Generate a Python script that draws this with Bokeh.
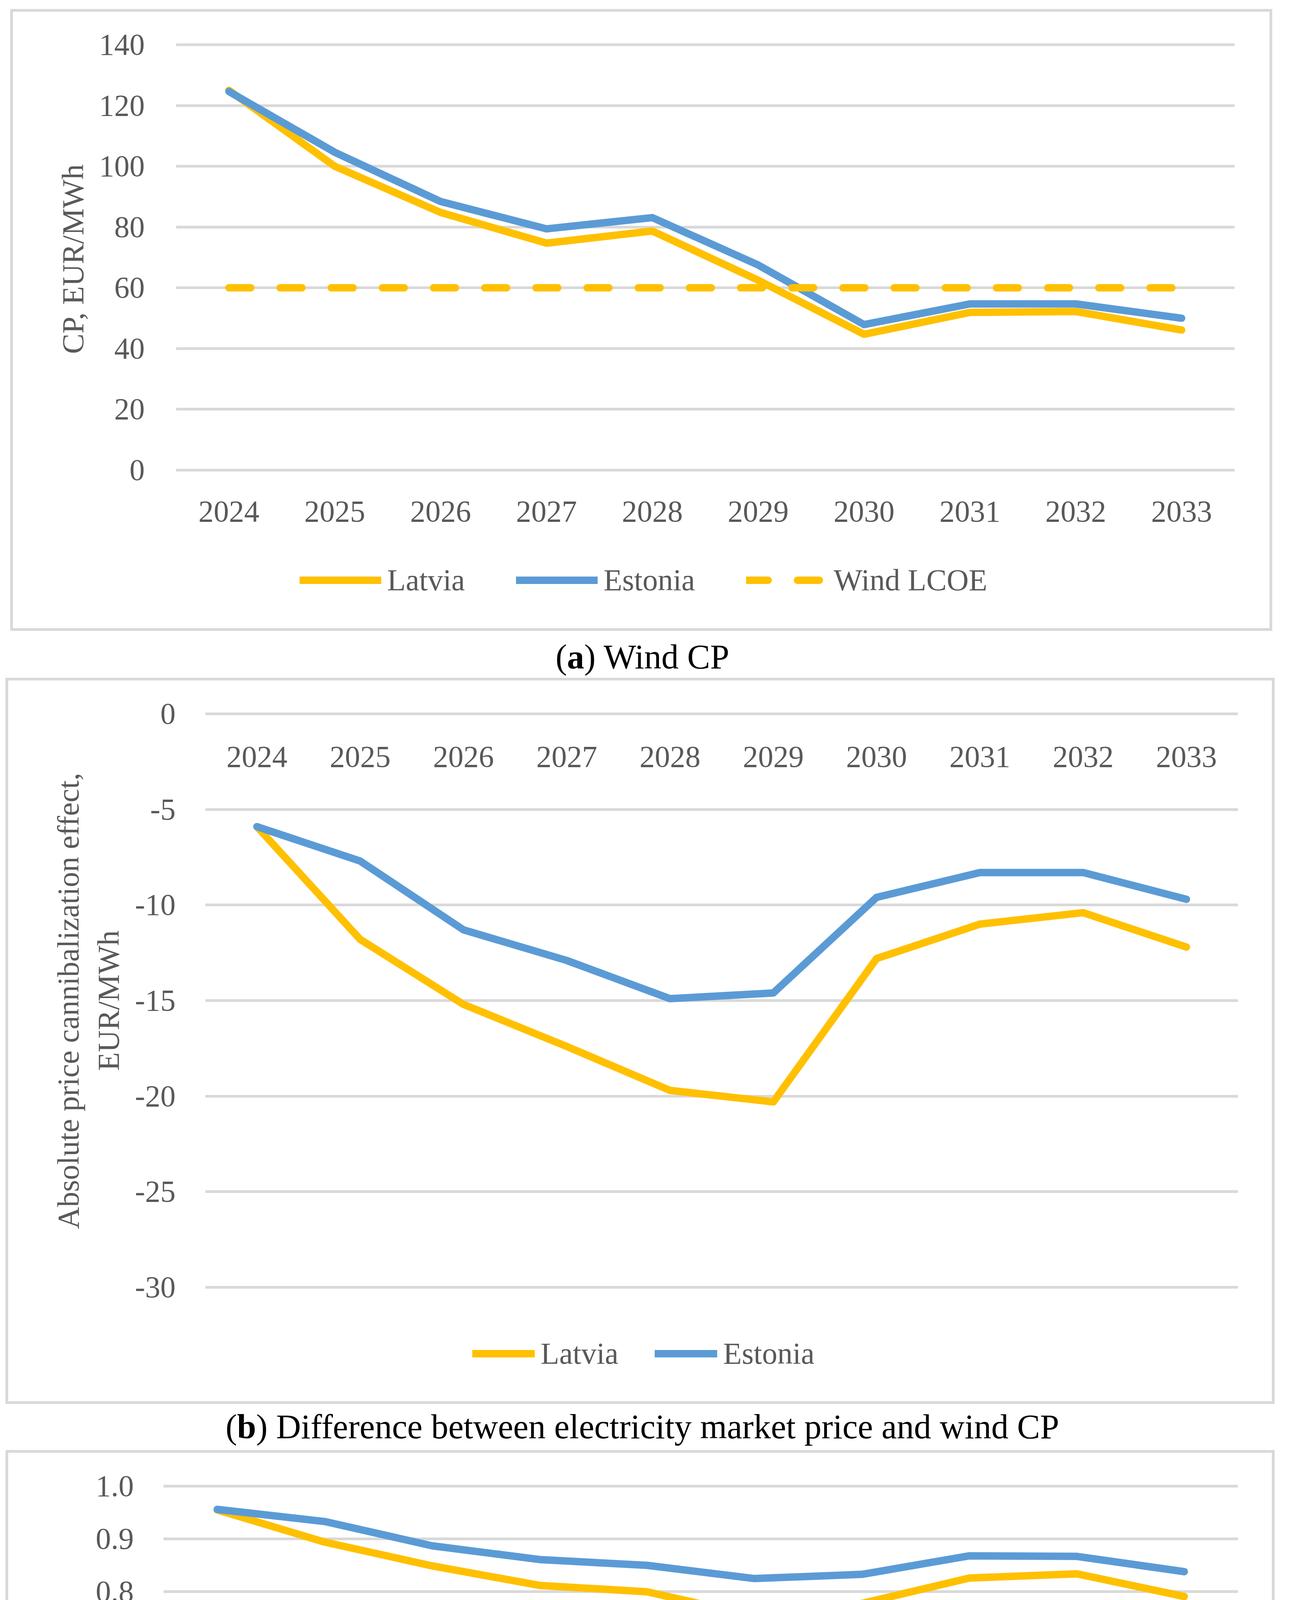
from bokeh.plotting import figure
from bokeh.models import (FactorRange, Range1d, Legend, LegendItem, FixedTicker,
                          Spacer, Div, Title)
from bokeh.layouts import column, row
from bokeh.core.properties import value
from bokeh.embed import file_html
from bokeh.resources import INLINE

# ---------------- data ----------------
years = ["2024", "2025", "2026", "2027", "2028", "2029", "2030", "2031", "2032", "2033"]

cp_latvia = [125.0, 100.0, 84.8, 74.7, 78.7, 62.5, 44.7, 51.9, 52.2, 46.1]
cp_estonia = [124.6, 104.6, 88.4, 79.4, 83.1, 67.5, 47.9, 54.7, 54.7, 50.0]
wind_lcoe = [60, 60, 60, 60, 60, 60, 60, 60, 60, 60]

ape_latvia = [-5.9, -11.8, -15.2, -17.4, -19.7, -20.3, -12.8, -11.0, -10.4, -12.2]
ape_estonia = [-5.9, -7.7, -11.3, -12.9, -14.9, -14.6, -9.6, -8.3, -8.3, -9.7]

cpf_latvia = [0.955, 0.894, 0.849, 0.812, 0.800, 0.754, 0.778, 0.826, 0.834, 0.791]
cpf_estonia = [0.956, 0.933, 0.887, 0.861, 0.850, 0.825, 0.833, 0.868, 0.867, 0.838]

cp_ticks = [0, 20, 40, 60, 80, 100, 120, 140]
cp_tick_labels = ["0", "20", "40", "60", "80", "100", "120", "140"]
ape_ticks = [0, -5, -10, -15, -20, -25, -30]
ape_tick_labels = ["0", "-5", "-10", "-15", "-20", "-25", "-30"]
cpf_ticks = [0.0, 0.1, 0.2, 0.3, 0.4, 0.5, 0.6, 0.7, 0.8, 0.9, 1.0]
cpf_tick_labels = ["0.0", "0.1", "0.2", "0.3", "0.4", "0.5", "0.6", "0.7", "0.8", "0.9", "1.0"]

series_names = ["Latvia", "Estonia", "Wind LCOE"]
titles_y = [["CP, EUR/MWh"], ["Absolute price cannibalization effect,", "EUR/MWh"], ["CPF"]]
captions = [("a", ") Wind CP"),
            ("b", ") Difference between electricity market price and wind CP"),
            ("c", ") Wind CPF")]

# ---------------- style ----------------
FONT = "Liberation Serif"
GRAY = "#595959"
GRID = "#D9D9D9"
YELLOW = "#FFC000"
BLUE = "#5B9BD5"
W = 3289          # page content width
FS = 78           # text size (px)
TXT = f"{FS}px"
LW = 19           # series line width
BW = 7            # chart-area border width
PAD = 4           # px of frame above the top gridline
BOT = 10          # px below the frame inside each chart area

# em widths of Liberation Serif (Times metrics), used to centre rotated titles
EM = {" ": .25, ",": .25, "/": .278, "A": .722, "C": .667, "E": .611, "F": .556,
      "M": .889, "P": .556, "R": .667, "U": .722, "W": .944, "a": .444, "b": .5,
      "c": .444, "e": .444, "f": .333, "h": .5, "i": .278, "l": .278, "n": .5,
      "o": .5, "p": .5, "r": .333, "s": .389, "t": .278, "u": .5, "z": .444}


def text_len(s):
    return sum(EM.get(ch, .5) for ch in s) * FS


def base_fig(w, h, left, right, data_top, data_bot, y_lo, y_hi):
    """Frame spans from just above the top gridline down to near the box bottom,
    so the legend can sit inside it below the value area."""
    ft = data_top - PAD
    fb = h - BOT
    upp = (y_hi - y_lo) / (data_bot - data_top)
    p = figure(width=w, height=h,
               x_range=FactorRange(factors=years, range_padding=0),
               y_range=Range1d(y_lo - (fb - data_bot) * upp, y_hi + (data_top - ft) * upp),
               output_backend="svg", toolbar_location=None,
               x_axis_location=None,
               min_border_left=left, min_border_right=w - right,
               min_border_top=ft, min_border_bottom=h - fb)
    p.outline_line_color = None
    p.background_fill_color = "white"
    p.border_fill_color = "white"
    p.xgrid.grid_line_color = None
    return p


def title_fig(w, h, data_top, data_bot, text):
    """Narrow strip carrying one line of the rotated y-axis title, centred on
    the value area (frame aligned with the neighbouring plot)."""
    ft = data_top - PAD
    fb = h - BOT
    t = figure(width=w, height=h, x_range=Range1d(0, 1), y_range=Range1d(0, 1),
               output_backend="svg", toolbar_location=None,
               x_axis_location=None, y_axis_location=None,
               min_border_left=w - 1, min_border_right=0,
               min_border_top=ft, min_border_bottom=h - fb)
    t.outline_line_color = None
    t.background_fill_color = "white"
    t.border_fill_color = "white"
    t.grid.visible = False
    centre = (data_top + data_bot) / 2
    off = fb - centre - text_len(text) / 2
    t.add_layout(Title(text=text, align="left", offset=off, standoff=0,
                       text_font=FONT, text_font_size=TXT, text_font_style="normal",
                       text_color=GRAY), "left")
    return t


def style_y(p, ticks, labels, standoff):
    ax = p.yaxis[0]
    ax.ticker = FixedTicker(ticks=ticks)
    g = p.ygrid[0]
    g.ticker = FixedTicker(ticks=ticks)
    g.grid_line_color = GRID
    g.grid_line_width = 7
    ax.major_label_overrides = dict(zip(ticks, labels))
    ax.axis_line_color = None
    ax.major_tick_line_color = None
    ax.minor_tick_line_color = None
    ax.major_tick_out = 0
    ax.major_tick_in = 0
    ax.minor_tick_out = 0
    ax.minor_tick_in = 0
    ax.major_label_standoff = standoff
    ax.major_label_text_font = FONT
    ax.major_label_text_font_size = TXT
    ax.major_label_text_color = GRAY


def x_labels(p, axis_value, offset):
    """Category labels hanging below the horizontal axis line at `axis_value`."""
    p.text(x=years, y=[axis_value] * len(years), text=years, y_offset=offset,
           text_font=value(FONT), text_font_size=value(TXT), text_color=GRAY,
           text_align="center", text_baseline="middle")


def add_legend(p, items, x, y, glyph_w, spacing):
    lg = Legend(items=[LegendItem(label=n, renderers=[r]) for n, r in items],
                location=(x, y), orientation="horizontal",
                glyph_width=glyph_w, glyph_height=90, label_height=90,
                label_standoff=15, spacing=spacing, padding=0, margin=0,
                border_line_color=None, background_fill_alpha=0,
                label_text_font=FONT, label_text_font_size=TXT,
                label_text_color=GRAY)
    p.add_layout(lg)


def lines(p, a, b):
    r1 = p.line(years, a, line_color=YELLOW, line_width=LW, line_join="round", line_cap="round")
    r2 = p.line(years, b, line_color=BLUE, line_width=LW, line_join="round", line_cap="round")
    return r1, r2


def boxed(content, w, h, left_gap):
    """Wrap content in a light-grey chart-area border (w, h = outer size)."""
    def bar(bw, bh):
        return Spacer(width=bw, height=bh, margin=(0, 0, 0, 0),
                      styles={"background-color": GRID})
    inner = column(bar(w - 2 * BW, BW), content, bar(w - 2 * BW, BW), spacing=0)
    return row(Spacer(width=left_gap, height=h, margin=(0, 0, 0, 0)),
               bar(BW, h), inner, bar(BW, h), spacing=0)


def caption(letter, rest, h, pad_top):
    html = ('<div style="font-family: \'Liberation Serif\', serif; font-size: 88px; '
            'line-height: 100px; text-align: center; color: #000000; white-space: nowrap; '
            f'padding-top: {pad_top}px; width: {W}px;">(<b>{letter}</b>){rest[1:]}</div>')
    return Div(text=html, width=W, height=h, margin=(0, 0, 0, 0))


def panel(outer_w, outer_h, title_edges, plot_left, plot_right, data_top, data_bot,
          y_lo, y_hi, title_lines):
    """title_edges: x (inside the chart area) of the lower edge of each title line."""
    iw, ih = outer_w - 2 * BW, outer_h - 2 * BW
    strips, x0 = [], 0
    for edge, txt in zip(title_edges, title_lines):
        strips.append(title_fig(edge - x0 + 1, ih, data_top, data_bot, txt))
        x0 = edge + 1
    p = base_fig(iw - x0, ih, plot_left - x0, plot_right - x0,
                 data_top, data_bot, y_lo, y_hi)
    return strips, p


# ---------------- panel (a) ----------------
AW, AH = 3231, 1592
sa, pa = panel(AW, AH, [196], 417, 3127, 84, 1173, 0, 140, titles_y[0])
style_y(pa, cp_ticks, cp_tick_labels, 80)
ra1, ra2 = lines(pa, cp_latvia, cp_estonia)
ra3 = pa.line(years, wind_lcoe, line_color=YELLOW, line_width=LW, line_dash="56 75",
              line_cap="round")
x_labels(pa, cp_ticks[0], 106)
add_legend(pa, list(zip(series_names, [ra1, ra2, ra3])), 317, 68, 209, 131)

# ---------------- panel (b) ----------------
BWD, BH = 3249, 1859
sb, pb = panel(BWD, BH, [196, 299], 504, 3148, 85, 1553, -30, 0, titles_y[1])
style_y(pb, ape_ticks, ape_tick_labels, 76)
x_labels(pb, ape_ticks[0], 110)
rb1, rb2 = lines(pb, ape_latvia, ape_estonia)
add_legend(pb, list(zip(series_names[:2], [rb1, rb2])), 684, 67, 160, 93)

# ---------------- panel (c) ----------------
CWD, CH = 3249, 1857
sc, pc = panel(CWD, CH, [199], 397, 3148, 85, 1437, 0, 1.0, titles_y[2])
style_y(pc, cpf_ticks, cpf_tick_labels, 76)
rc1, rc2 = lines(pc, cpf_latvia, cpf_estonia)
x_labels(pc, cpf_ticks[0], 110)
add_legend(pc, list(zip(series_names[:2], [rc1, rc2])), 791, 67, 160, 93)

layout = column(
    Spacer(width=W, height=23, margin=(0, 0, 0, 0)),
    boxed(row(*sa, pa, spacing=0), AW, AH, 26),
    caption(*captions[0], 120, 17),
    boxed(row(*sb, pb, spacing=0), BWD, BH, 14),
    caption(*captions[1], 118, 9),
    boxed(row(*sc, pc, spacing=0), CWD, CH, 14),
    caption(*captions[2], 140, 17),
    spacing=0,
)
open("out.html", "w").write(file_html(layout, INLINE))
